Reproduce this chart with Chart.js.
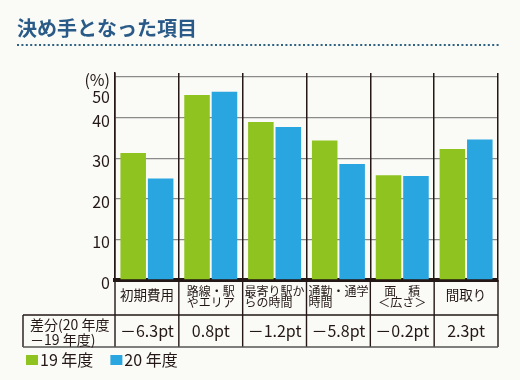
<!DOCTYPE html>
<html><head><meta charset="utf-8">
<script src="https://cdn.jsdelivr.net/npm/chart.js@4.4.1/dist/chart.umd.min.js"></script>
<style>html,body{margin:0;padding:0;background:#fafaf6;}canvas{display:block;}</style>
</head><body>
<canvas id="c" width="520" height="380"></canvas>
<script>
const categories = ['初期費用', ['路線・駅','やエリア'], ['最寄り駅か','らの時間　'], ['通勤・通学','時間　　　'], ['面　積','＜広さ＞'], '間取り'];
const fy19 = [31.3, 45.6, 38.9, 34.4, 25.8, 32.3];
const fy20 = [25.0, 46.4, 37.7, 28.6, 25.6, 34.6];
const diffs = ['－6.3pt', '0.8pt', '－1.2pt', '－5.8pt', '－0.2pt', '2.3pt'];
const yTicks = [0, 10, 20, 30, 40, 50];
const seriesNames = ['19 年度', '20 年度'];
const diffHeader = ['差分(20 年度', '－19 年度)'];
const titleText = '決め手となった項目';

const GREEN = '#8fc31f', BLUE = '#29a5df', INK = '#231815';
Chart.defaults.font.family = "'Noto Sans CJK JP', 'Noto Sans', sans-serif";
Chart.defaults.color = INK;

function swatch(color) {
  const c = document.createElement('canvas');
  c.width = 24; c.height = 10;
  const g = c.getContext('2d');
  g.fillStyle = color; g.fillRect(11, 0, 12, 10);
  return c;
}
const swatches = [swatch(GREEN), swatch(BLUE)];

const tablePlugin = {
  id: 'tablePlugin',
  afterDraw(chart) {
    const ctx = chart.ctx;
    const xs = chart.scales.x, x2 = chart.scales.x2;
    const n = categories.length;
    const top = xs.top, mid = x2.top, bot = x2.bottom;
    const cellLeft = 23;
    ctx.save();
    ctx.strokeStyle = '#2f6283';
    ctx.lineWidth = 2;
    ctx.setLineDash([2, 2.4]);
    ctx.beginPath(); ctx.moveTo(17, 45); ctx.lineTo(500, 45); ctx.stroke();
    ctx.setLineDash([]);
    ctx.strokeStyle = INK;
    ctx.lineWidth = 1.4;
    ctx.beginPath();
    for (let i = 0; i <= n; i++) {
      const px = xs.left + (xs.right - xs.left) * i / n;
      ctx.moveTo(px, top); ctx.lineTo(px, bot);
    }
    ctx.moveTo(cellLeft, mid); ctx.lineTo(xs.right, mid);
    ctx.moveTo(cellLeft, mid); ctx.lineTo(cellLeft, bot);
    ctx.stroke();
    ctx.strokeStyle = '#555';
    ctx.beginPath(); ctx.moveTo(cellLeft, bot); ctx.lineTo(xs.right, bot); ctx.stroke();
    ctx.fillStyle = INK;
    ctx.font = "14px 'Noto Sans CJK JP'";
    ctx.textBaseline = 'middle';
    ctx.textAlign = 'left';
    ctx.fillText(diffHeader[0], 30, mid + 10);
    ctx.fillText(diffHeader[1], 30, mid + 25);
    ctx.restore();
  }
};

new Chart(document.getElementById('c'), {
  type: 'bar',
  data: {
    labels: categories,
    datasets: [
      { label: seriesNames[0], data: fy19, backgroundColor: GREEN, borderWidth: 0 },
      { label: seriesNames[1], data: fy20, backgroundColor: BLUE, borderWidth: 0 }
    ]
  },
  options: {
    responsive: false,
    animation: false,
    barPercentage: 0.93,
    categoryPercentage: 0.86,
    layout: { padding: { left: 17, right: 22, top: 0, bottom: 2 } },
    plugins: {
      tooltip: { enabled: false },
      title: {
        display: true, text: titleText, align: 'start', color: '#2a5b88',
        font: { size: 20, weight: 'bold', lineHeight: 1.2 },
        padding: { top: 16, bottom: 33 }
      },
      legend: {
        position: 'bottom', align: 'start',
        labels: {
          usePointStyle: true, boxWidth: 10, padding: 5,
          color: INK, font: { size: 16 },
          generateLabels(chart) {
            return chart.data.datasets.map((d, i) => ({
              text: seriesNames[i] + '\u2002', fillStyle: d.backgroundColor,
              strokeStyle: d.backgroundColor, lineWidth: 0, pointStyle: swatches[i],
              datasetIndex: i, hidden: false, fontColor: INK
            }));
          }
        }
      }
    },
    scales: {
      y: {
        min: 0, max: 51,
        afterBuildTicks(s) { s.ticks = yTicks.map(v => ({ value: v })); },
        afterFit(s) { s.width = 98; },
        grid: { color: '#8a8a8a', lineWidth: 1.3, drawTicks: false },
        border: { display: true, color: INK, width: 1.5 },
        ticks: {
          autoSkip: false, padding: 5, labelOffset: 3, color: INK,
          font: { size: 16, lineHeight: 1.06 },
          callback(v) { return v === 50 ? ['', '(%)', '50'] : String(v); }
        }
      },
      x: {
        weight: 0,
        grid: { offset: true, color: INK, lineWidth: 1.5, drawTicks: false },
        border: { color: INK, width: 4 },
        afterFit(s) { s.height = 35; },
        ticks: {
          autoSkip: false, maxRotation: 0, padding: 11, color: INK, crossAlign: 'center',
          font(ctx) {
            const l = categories[ctx.index];
            return Array.isArray(l) ? { size: 12, lineHeight: 0.96 } : { size: 13.5, lineHeight: 1.2 };
          }
        }
      },
      x2: {
        type: 'category', labels: diffs, position: 'bottom', offset: true, weight: 1,
        grid: { display: false, drawTicks: false },
        border: { display: false },
        afterFit(s) { s.height = 32; },
        ticks: { autoSkip: false, maxRotation: 0, padding: 6, color: INK, font: { size: 16 } }
      }
    }
  },
  plugins: [tablePlugin]
});
</script>
</body></html>
